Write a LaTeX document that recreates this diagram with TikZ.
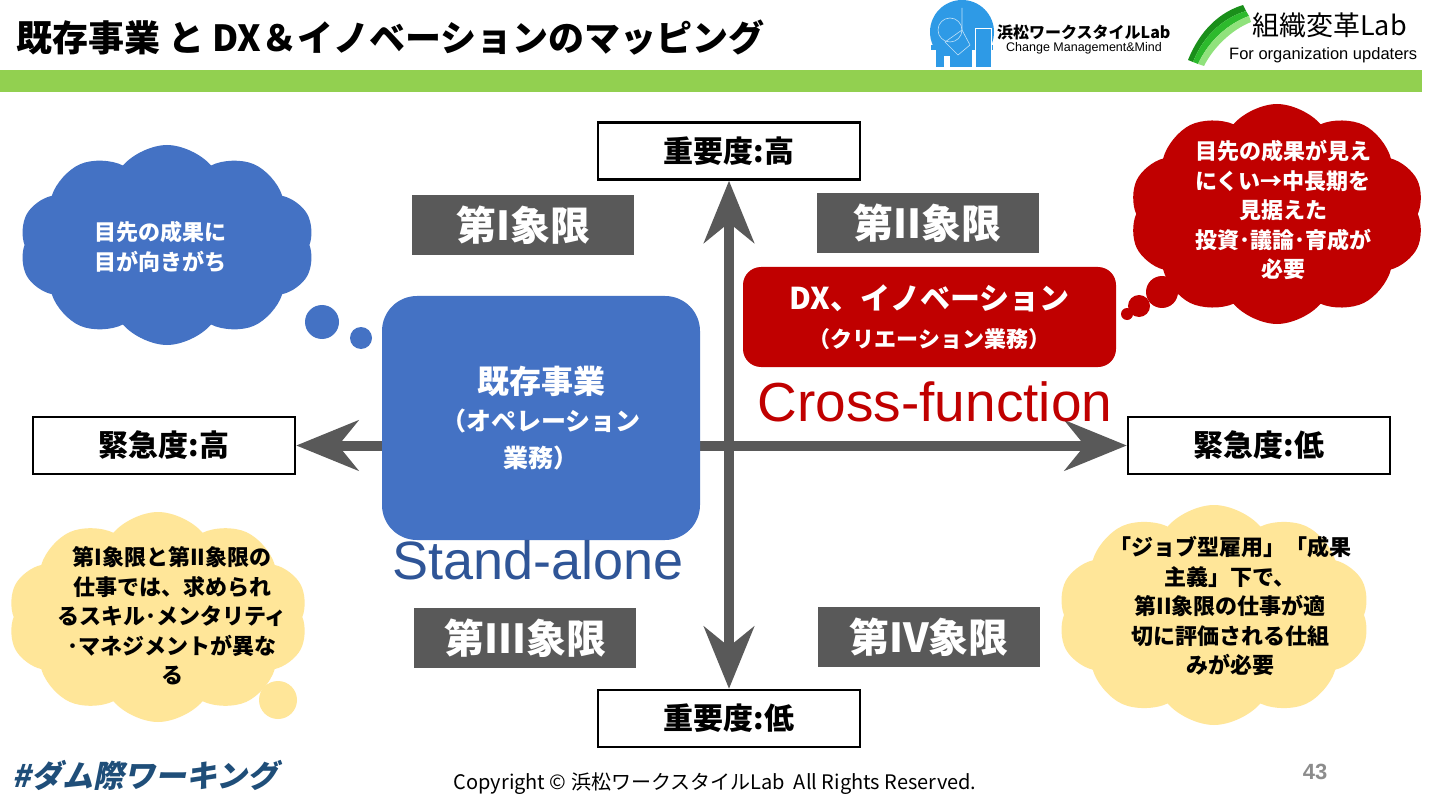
\documentclass[tikz,border=0pt]{standalone}
\usepackage{fontspec}
\setmainfont{Noto Sans CJK JP}
\newfontfamily\arialf{Liberation Sans}
\newfontfamily\slantf{Noto Sans CJK JP}[FakeSlant=0.2]
\usetikzlibrary{arrows.meta,shapes.symbols}
\definecolor{cblue}{HTML}{4472C4}
\definecolor{cred}{HTML}{C00000}
\definecolor{qgray}{HTML}{595959}
\definecolor{cyel}{HTML}{FFE699}
\definecolor{gbar}{HTML}{92D050}
\definecolor{sblue}{HTML}{2F5597}
\definecolor{hblue}{HTML}{1F4E79}
\definecolor{lblue}{HTML}{2E9AE6}
\definecolor{g1}{HTML}{1A8F1A}
\definecolor{g2}{HTML}{2DBA2D}
\definecolor{g3}{HTML}{90E27C}
\definecolor{pgray}{HTML}{8C8C8C}
\tikzset{
  qbox/.style={fill=qgray, text=white, minimum width=222pt, minimum height=60pt, inner sep=0pt, font=\fontsize{40}{40}\selectfont\bfseries},
  lbox/.style={draw=black, line width=2.5pt, fill=white, minimum width=262pt, minimum height=57pt, inner sep=0pt, font=\fontsize{30}{30}\selectfont\bfseries},
  axis/.style={line width=10pt, draw=qgray, {Stealth[length=62pt, width=50pt, inset=20pt]}-{Stealth[length=62pt, width=50pt, inset=20pt]}},
  cloudshape/.style={cloud, cloud puffs=10, cloud puff arc=100, aspect=1.5, inner sep=0pt},
  ctext/.style={align=center, font=\fontsize{22}{29.5}\selectfont\bfseries},
}
\begin{document}
\begin{tikzpicture}[x=1pt,y=-1pt]
\useasboundingbox (0,0) rectangle (1440,810);
\fill[white] (0,0) rectangle (1440,810);
% header
\node[anchor=west, inner sep=0pt, font=\fontsize{36}{36}\selectfont\bfseries] (title) at (16,38) {既存事業 と DX＆イノベーションのマッピング};
\fill[gbar] (0,70) rectangle (1422,92);
% hamamatsu logo
\begin{scope}
\clip (920,0) rectangle (1000,50);
\fill[lblue] (962,32) circle[radius=32pt];
\end{scope}
\fill[lblue] (936,45) rectangle (972,67);
\fill[lblue] (931,45) rectangle (993,50);
\fill[lblue] (975,28) rectangle (991,67);
\draw[white, line width=0.8pt] (975,28) rectangle (991,67);
\fill[white] (944,56) rectangle (950,67);
\draw[white!70!lblue, line width=0.6pt] (962,8) -- (962,30) -- (945,42) -- (958,55) -- (970,45) -- (962,30);
\draw[white!70!lblue, line width=0.6pt] (950,30) circle[radius=12pt];
\node[anchor=west, inner sep=0pt, font=\fontsize{16}{16}\selectfont\bfseries] (hlogo) at (997,32) {浜松ワークスタイルLab};
\node[anchor=west, inner sep=0pt, font=\arialf\fontsize{12.5}{13}\selectfont] (hsub) at (1006,48) {Change Management\&Mind};
% green logo
\fill[g1] (1188,60) .. controls (1200,30) and (1220,12) .. (1243,5) -- (1246,11) .. controls (1223,18) and (1203,36) .. (1193,62) -- cycle;
\fill[g2] (1193,62) .. controls (1203,36) and (1223,18) .. (1246,11) -- (1249,16) .. controls (1227,24) and (1208,42) .. (1198,64) -- cycle;
\fill[g3] (1198,64) .. controls (1208,42) and (1227,24) .. (1249,16) -- (1251,22) .. controls (1231,30) and (1213,48) .. (1204,66) -- cycle;
\node[anchor=west, inner sep=0pt, font=\fontsize{27}{27}\selectfont] (slogo) at (1252,25) {組織変革Lab};
\node[anchor=west, inner sep=0pt, font=\arialf\fontsize{16.5}{17}\selectfont] (ssub) at (1229,55) {For organization updaters};
% clouds
\node[cloudshape, fill=cblue, minimum width=295pt, minimum height=200pt] (bc) at (167,245) {};
\fill[cblue] (322,322) circle[radius=17pt];
\fill[cblue] (361,338) circle[radius=11pt];
\node[ctext, text=white] (bct) at (160,247) {目先の成果に\\目が向きがち};
\node[cloudshape, fill=cred, minimum width=295pt, minimum height=220pt] (rc) at (1277,214) {};
\fill[cred] (1162,292) circle[radius=16pt];
\fill[cred] (1139,306) circle[radius=11pt];
\fill[cred] (1127,314) circle[radius=6pt];
\node[ctext, text=white] (rct) at (1283,210) {目先の成果が見え\\にくい→中長期を\\見据えた\\投資･議論･育成が\\必要};
\node[cloudshape, fill=cyel, minimum width=300pt, minimum height=210pt] (ylc) at (158,617) {};
\fill[cyel] (278,700) circle[radius=19pt];
\node[ctext] (ylt) at (172,616) {第I象限と第II象限の\\仕事では、求められ\\るスキル･メンタリティ\\･マネジメントが異な\\る};
\node[cloudshape, fill=cyel, minimum width=312pt, minimum height=220pt] (yrc) at (1214,615) {};
\node[ctext] (yrt) at (1230,606) {「ジョブ型雇用」「成果\\主義」下で、\\第II象限の仕事が適\\切に評価される仕組\\みが必要};
% quadrant labels
\node[qbox] (q1) at (523,225) {第I象限};
\node[qbox] (q2) at (927.5,223) {第II象限};
\node[qbox] (q3) at (525,638) {第III象限};
\node[qbox] (q4) at (929,637) {第IV象限};
% axis boxes
\node[lbox] (top) at (729,151) {重要度:高};
\node[lbox] (bot) at (729,718.5) {重要度:低};
\node[lbox] (lft) at (164,445.5) {緊急度:高};
\node[lbox] (rgt) at (1259,445.5) {緊急度:低};
% axes
\draw[axis] (bot.north) -- (top.south);
\draw[axis] (lft.east) -- (rgt.west);
% main boxes
\node[fill=cblue, rounded corners=35pt, minimum width=318pt, minimum height=244pt, text=white, align=center, font=\fontsize{25}{37}\selectfont\bfseries] (exist) at (541,418) {{\fontsize{32}{37}\selectfont 既存事業}\\（オペレーション\\業務）};
\node[fill=cred, rounded corners=18pt, minimum width=373pt, minimum height=100pt, text=white, align=center, font=\fontsize{22}{38}\selectfont\bfseries] (dx) at (929.5,317) {{\fontsize{30}{38}\selectfont DX、イノベーション}\\（クリエーション業務）};
\node[text=cred, inner sep=0pt, font=\arialf\fontsize{55}{55}\selectfont] (cf) at (935,402) {Cross-function};
\node[text=sblue, inner sep=0pt, font=\arialf\fontsize{54}{54}\selectfont] (sa) at (538,560) {Stand-alone};
% footer
\node[anchor=west, inner sep=0pt, text=hblue, font=\slantf\fontsize{31}{31}\selectfont\bfseries] (tag) at (12,775) {\#ダム際ワーキング};
\node[inner sep=0pt, font=\fontsize{20}{20}\selectfont] (copy) at (715,784) {Copyright © 浜松ワークスタイルLab\ \ All Rights Reserved.};
\node[inner sep=0pt, text=pgray, font=\arialf\fontsize{22}{22}\selectfont\bfseries] (pg) at (1315,772) {43};
\end{tikzpicture}
\end{document}
